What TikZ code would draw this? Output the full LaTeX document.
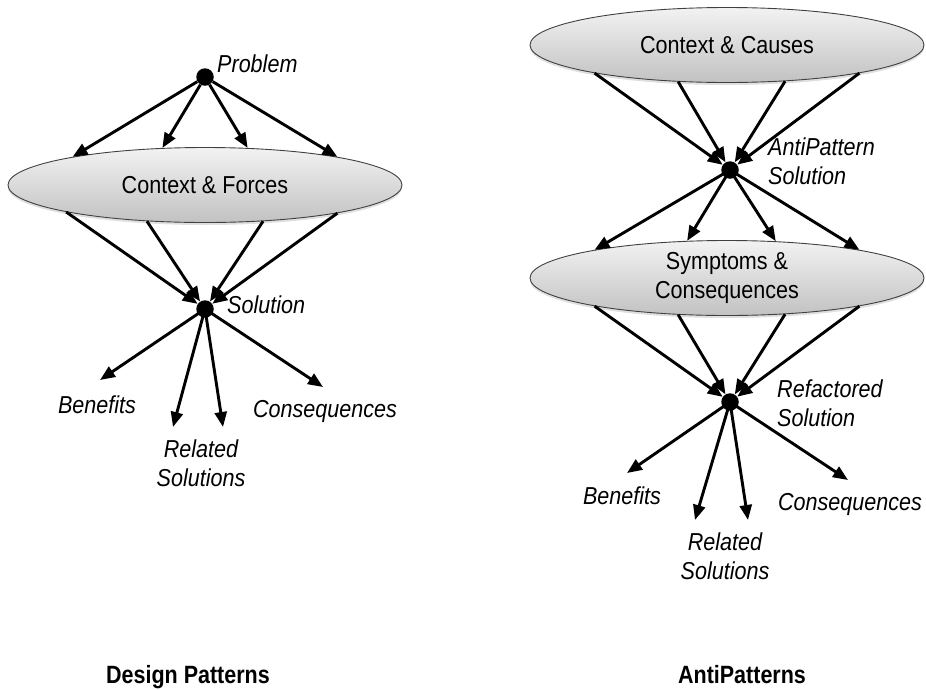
\documentclass[tikz,border=0pt]{standalone}
\usepackage{fontspec}
\setmainfont[FakeStretch=0.88]{Liberation Sans}
\newfontfamily\headfont[FakeStretch=0.86]{Liberation Sans}
\usetikzlibrary{arrows.meta,shadows,shapes.geometric}

\tikzset{
  bubble/.style={ellipse, draw=black!75, line width=0.9pt,
    top color=black!5, bottom color=black!24,
    minimum width=394pt, minimum height=75pt, inner sep=0pt,
    align=center, font=\fontsize{24.5}{28.5}\selectfont,
    drop shadow={opacity=0.25, shadow xshift=0pt, shadow yshift=-2.5pt}},
  dot/.style={circle, fill=black, minimum size=17.5pt, inner sep=0pt},
  flow/.style={line width=2.9pt, -{Triangle[length=15pt,width=12pt]}},
  lbl/.style={inner sep=0pt, font=\fontsize{24.5}{28.5}\selectfont\itshape},
  caption/.style={inner sep=0pt, anchor=base, font=\headfont\fontsize{25}{30}\selectfont\bfseries}
}

\begin{document}
\begin{tikzpicture}[x=1pt, y=-1pt]
\useasboundingbox (0,0) rectangle (926,689);

% ---------------- Design Patterns ----------------
\node[dot] (prob) at (205,77) {};
\node[lbl, anchor=base west] (probL) at (217,72) {Problem};
\node[bubble] (forces) at (205,185) {Context \& Forces};
\node[dot] (sol) at (205,309) {};
\node[lbl, anchor=base west] (solL) at (227,313) {Solution};

\foreach \a in {168,139,41,12} \draw[flow] (prob) -- (forces.\a);
\foreach \a in {-169,-148,-32,-12} \draw[flow] (forces.\a) -- (sol);

\coordinate (dBen) at (100,380);
\coordinate (dRel1) at (173,427);
\coordinate (dRel2) at (223,427);
\coordinate (dCon) at (323,387);
\foreach \t in {dBen,dRel1,dRel2,dCon} \draw[flow] (sol.center) -- (\t);

\node[lbl, anchor=base] (dBenL) at (97,413) {Benefits};
\node[lbl, anchor=north, align=center] (dRelL) at (201,440) {Related\\Solutions};
\node[lbl, anchor=base] (dConL) at (325,417) {Consequences};

\node[caption] (dpTitle) at (188,683) {Design Patterns};

% ---------------- AntiPatterns ----------------
\node[bubble] (causes) at (727,45) {Context \& Causes};
\node[dot] (anti) at (730,170) {};
\node[lbl, anchor=north west, align=left] (antiL) at (768,138) {AntiPattern\\Solution};
\node[bubble] (sympt) at (727,278) {Symptoms \&\\Consequences};
\node[dot] (refac) at (730,402) {};
\node[lbl, anchor=north west, align=left] (refacL) at (777,380) {Refactored\\Solution};

\foreach \a in {-168,-143,-32,-12} \draw[flow] (causes.\a) -- (anti);
\foreach \a in {168,137,37,12} \draw[flow] (anti.center) -- (sympt.\a);
\foreach \a in {-168,-143,-32,-12} \draw[flow] (sympt.\a) -- (refac);

\coordinate (aBen) at (627,473);
\coordinate (aRel1) at (695,520);
\coordinate (aRel2) at (748,520);
\coordinate (aCon) at (848,480);
\foreach \t in {aBen,aRel1,aRel2,aCon} \draw[flow] (refac.center) -- (\t);

\node[lbl, anchor=base] (aBenL) at (622,504) {Benefits};
\node[lbl, anchor=north, align=center] (aRelL) at (725,533) {Related\\Solutions};
\node[lbl, anchor=base] (aConL) at (850,510) {Consequences};

\node[caption] (apTitle) at (742,683) {AntiPatterns};
\end{tikzpicture}
\end{document}
